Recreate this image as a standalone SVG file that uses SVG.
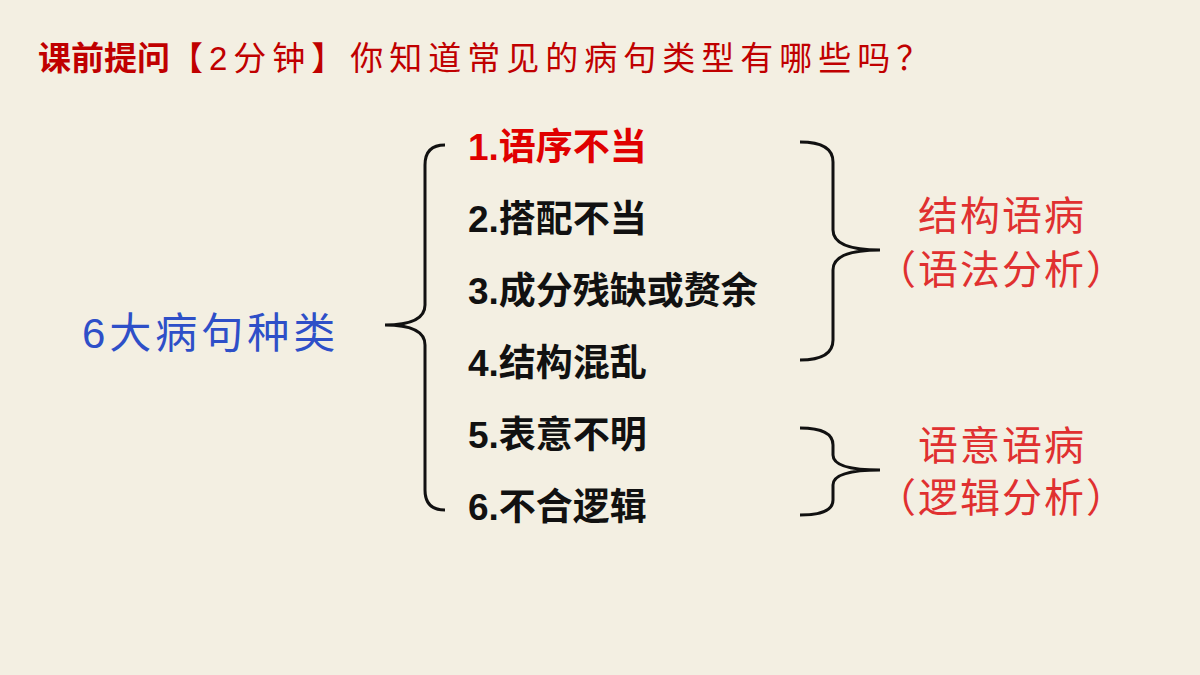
<svg xmlns="http://www.w3.org/2000/svg" width="1200" height="675" viewBox="0 0 1200 675">
<style>
.cjk{font-family:"Liberation Sans","Noto Sans CJK SC",sans-serif}
.item{font-size:37px;font-weight:bold;fill:#111}
.red{font-size:40px;fill:#e03030;text-anchor:middle;letter-spacing:2px}
.br{fill:none;stroke:#111;stroke-width:3}
</style>
<rect width="1200" height="675" fill="#f3efe2"/>
<text class="cjk" x="38" y="70" font-size="33" fill="#c00000"><tspan font-weight="bold">课前提问</tspan><tspan letter-spacing="6">【2分钟】你知道常见的病句类型有哪些吗？</tspan></text>
<g id="root"><text class="cjk" x="82" y="348" font-size="42" fill="#2e4fc8" letter-spacing="4">6大病句种类</text></g>
<g id="items">
<text class="cjk item" x="468" y="160" style="fill:#e00000">1.语序不当</text>
<text class="cjk item" x="468" y="232">2.搭配不当</text>
<text class="cjk item" x="468" y="304">3.成分残缺或赘余</text>
<text class="cjk item" x="468" y="376">4.结构混乱</text>
<text class="cjk item" x="468" y="448">5.表意不明</text>
<text class="cjk item" x="468" y="520">6.不合逻辑</text>
</g>
<g id="g1"><text class="cjk red" x="1002" y="230">结构语病</text><text class="cjk red" x="1002" y="284">（语法分析）</text></g>
<g id="g2"><text class="cjk red" x="1002" y="460">语意语病</text><text class="cjk red" x="1002" y="512">（逻辑分析）</text></g>
<g id="connectors">
<path class="br" d="M445,145 Q425,145 425,165 L425,305 Q425,325 385,325 Q425,325 425,345 L425,490 Q425,510 445,510"/>
<path class="br" d="M800,142 Q833,142 833,162 L833,230 Q833,250 880,250 Q833,250 833,270 L833,340 Q833,360 800,360"/>
<path class="br" d="M800,428 Q833,428 833,445 L833,455 Q833,470 880,470 Q833,470 833,485 L833,500 Q833,515 800,515"/>
</g>
</svg>
